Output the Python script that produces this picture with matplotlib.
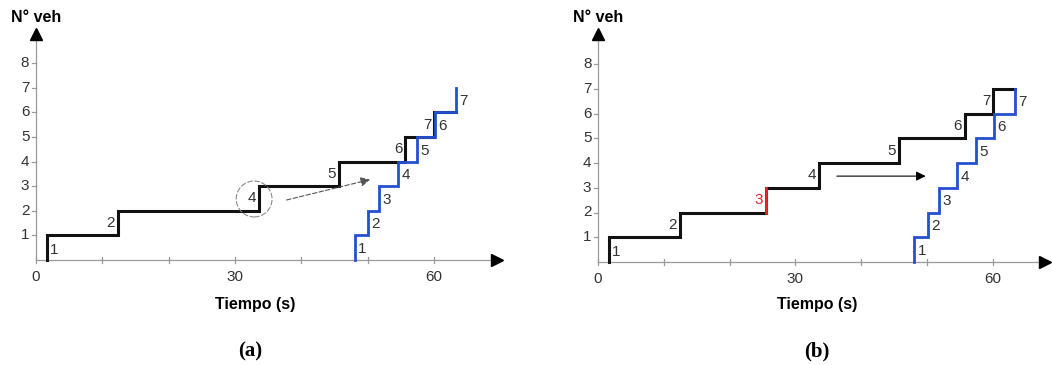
import matplotlib
matplotlib.use("Agg")
import matplotlib.pyplot as plt
from matplotlib.patches import Ellipse

# Vehicle passage times (s) at the upstream section (black) and downstream section (blue)
upstream_times = [1.6, 12.4, 25.5, 33.6, 45.7, 55.7, 60.1]
downstream_times = [48.1, 50.1, 51.8, 54.6, 57.4, 60.2, 63.3]
vehicle_ids = [1, 2, 3, 4, 5, 6, 7]
missed_index = 2  # vehicle 3 is not detected upstream in case (a)

x_ticks = [0, 30, 60]
x_minor = [10, 20, 40, 50]
y_ticks = [1, 2, 3, 4, 5, 6, 7, 8]

BLACK = "#111111"
BLUE = "#2450d0"
RED = "#e8232a"
TXT = "#333333"
AXIS = "#9a9a9a"
FONT = "Liberation Sans"

fig = plt.figure(figsize=(10.52, 3.65), dpi=100)
W, H = 1052, 365


def make_axes(x0_px, y0_px, px_per_s, px_per_veh, x_arrow):
    xmax, ymax = 70.5, 9.45
    left = x0_px / W
    bottom = (H - y0_px) / H
    ax = fig.add_axes([left, bottom, xmax * px_per_s / W, ymax * px_per_veh / H])
    ax.set_xlim(0, xmax)
    ax.set_ylim(0, ymax)
    ax.set_axis_off()
    # axes with arrowheads
    ax.plot([0, x_arrow], [0, 0], color=AXIS, lw=0.9, zorder=1, clip_on=False)
    ax.plot([0, 0], [0, 9.2], color=AXIS, lw=0.9, zorder=1, clip_on=False)
    ax.plot([x_arrow], [0], marker=">", ms=9, color="black", clip_on=False)
    ax.plot([0], [9.2], marker="^", ms=9, color="black", clip_on=False)
    for t in x_ticks + x_minor:
        ax.plot([t, t], [-0.12, 0.12], color=AXIS, lw=0.9, clip_on=False)
    for t in x_ticks:
        ax.text(t, -0.4, str(t), ha="center", va="top", fontsize=11,
                color=TXT, family=FONT)
    for v in y_ticks:
        ax.plot([-0.6, 0], [v, v], color=AXIS, lw=0.9, clip_on=False)
        ax.text(-1.0, v, str(v), ha="right", va="center", fontsize=11,
                color=TXT, family=FONT)
    return ax


def cumulative(ax, times, t_end, color, lw=2.0, z=3):
    xs = [times[0]] + list(times) + ([t_end] if t_end is not None else [])
    counts = list(range(1, len(times) + 1))
    ys = [0] + counts + ([counts[-1]] if t_end is not None else [])
    ax.step(xs, ys, where="post", color=color, lw=lw, zorder=z,
            solid_joinstyle="miter", clip_on=False)


def label_black(ax, times, labels, colors=None):
    for i, (t, lab) in enumerate(zip(times, labels)):
        c = TXT if colors is None else colors[i]
        if i == 0:
            ax.text(t + 0.5, 0.42, str(lab), ha="left", va="center",
                    fontsize=11, color=c, family=FONT)
        else:
            ax.text(t - 0.45, i + 0.5, str(lab), ha="right", va="center",
                    fontsize=11, color=c, family=FONT)


def label_blue(ax, times, labels):
    for i, (t, lab) in enumerate(zip(times, labels)):
        ax.text(t + 0.5, i + 0.45, str(lab), ha="left", va="center",
                fontsize=11, color=TXT, family=FONT)


# ---------- (a) vehicle 3 missed upstream ----------
ax_a = make_axes(36, 260, 6.63, 24.6, 69.6)
up_a = [t for i, t in enumerate(upstream_times) if i != missed_index]
ids_a = [v for i, v in enumerate(vehicle_ids) if i != missed_index]
cumulative(ax_a, up_a, downstream_times[-1], BLACK, lw=2.2, z=3)
cumulative(ax_a, downstream_times, None, BLUE, lw=2.0, z=4)
label_black(ax_a, up_a, ids_a)
label_blue(ax_a, downstream_times, vehicle_ids)
ax_a.add_patch(Ellipse((32.9, 2.48), 5.4, 1.46, fill=False, ec="#8a8a8a",
                       lw=0.8, ls=(0, (5, 1.5)), zorder=5))
ax_a.annotate("", xy=(50.4, 3.27), xytext=(37.8, 2.44),
              arrowprops=dict(arrowstyle="-|>", color="#555555", lw=0.8,
                              ls=(0, (4, 2)), mutation_scale=14,
                              shrinkA=0, shrinkB=0), zorder=5)

# ---------- (b) all vehicles detected ----------
ax_b = make_axes(598, 262, 6.58, 24.75, 67.9)
cumulative(ax_b, upstream_times, downstream_times[-1], BLACK, lw=2.2, z=3)
t3 = upstream_times[missed_index]
ax_b.plot([t3, t3], [missed_index, missed_index + 1], color=RED, lw=2.0, zorder=3.5)
cumulative(ax_b, downstream_times, None, BLUE, lw=2.0, z=4)
label_colors = [RED if i == missed_index else TXT for i in range(len(vehicle_ids))]
label_black(ax_b, upstream_times, vehicle_ids, label_colors)
label_blue(ax_b, downstream_times, vehicle_ids)
ax_b.annotate("", xy=(49.8, 3.47), xytext=(36.3, 3.47),
              arrowprops=dict(arrowstyle="-|>", color="black", lw=0.8,
                              mutation_scale=14, shrinkA=0, shrinkB=0), zorder=5)

# ---------- titles and panel letters ----------
for xc_yl, xc_xl, xc_p, letter in [(36, 255, 250, "(a)"), (598, 817, 817, "(b)")]:
    fig.text(xc_yl / W, 1 - 18 / H, "N° veh", ha="center", va="center",
             fontsize=11.5, fontweight="bold", family=FONT)
    fig.text(xc_xl / W, 1 - 305 / H, "Tiempo (s)", ha="center", va="center",
             fontsize=11.5, fontweight="bold", family=FONT)
    fig.text(xc_p / W, 1 - 351 / H, letter, ha="center", va="center",
             fontsize=15, fontweight="bold", family="Liberation Serif")

fig.savefig("out.png", dpi=100)
